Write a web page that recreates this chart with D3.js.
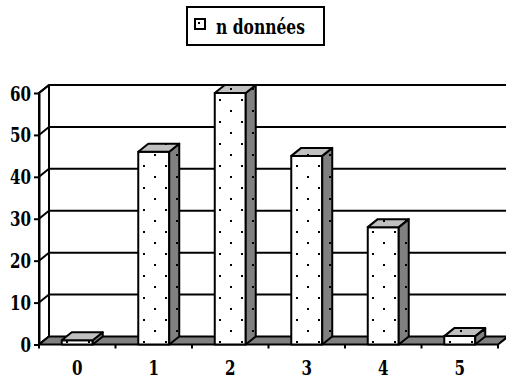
<!DOCTYPE html>
<html>
<head>
<meta charset="utf-8">
<script src="https://cdn.jsdelivr.net/npm/d3@7"></script>
<style>
  html, body { margin: 0; padding: 0; background: #fff; }
  svg { display: block; }
</style>
</head>
<body>
<svg id="chart" width="506" height="380"></svg>
<script>
// Number of observations per value
const categories = ["0", "1", "2", "3", "4", "5"];
const counts = [1, 46, 60, 45, 28, 2];
const yTicks = [0, 10, 20, 30, 40, 50, 60];
const seriesName = "n données";

const W = 506, H = 380;
const DX = 10, DY = -8;          // depth offset of the 3D box
const sideFill = "#808080", topFill = "#c0c0c0", floorFill = "#808080";
const labelFont = "'DejaVu Serif', serif";
const digitW = 10.5;             // narrow bold serif digit advance

const svg = d3.select("#chart");
const defs = svg.append("defs");

const styleLabel = sel => sel
  .style("font-family", labelFont)
  .style("font-weight", "bold")
  .style("font-size", "19.5px")
  .style("fill", "#000");

const x = d3.scaleBand().domain(categories).range([39, 498]);
const y = d3.scaleLinear().domain([0, 60]).range([344.5, 93]);
const barW = x.bandwidth() * 0.405;

const line = (pts) => "M" + pts.map(p => p.join(",")).join("L") + "Z";

// back wall
const yTop = y(60) + DY, yBase = y(0);
svg.append("path")
  .attr("d", line([[x.range()[0] + DX, yTop], [W + 4, yTop], [W + 4, yBase + DY], [x.range()[0] + DX, yBase + DY]]))
  .attr("fill", "#fff");

// gridlines on back wall
svg.append("g").selectAll("line").data(yTicks.filter(t => t > 0)).join("line")
  .attr("x1", x.range()[0] + DX).attr("x2", W + 4)
  .attr("y1", d => y(d) + DY).attr("y2", d => y(d) + DY)
  .attr("stroke", "#000").attr("stroke-width", 2);

// left wall
const x0 = x.range()[0];
svg.append("path")
  .attr("d", line([[x0, y(0)], [x0, y(60)], [x0 + DX, y(60) + DY], [x0 + DX, y(0) + DY]]))
  .attr("fill", "#fff").attr("stroke", "#000").attr("stroke-width", 2).attr("stroke-linejoin", "round");
svg.append("g").selectAll("line").data(yTicks).join("line")
  .attr("x1", x0).attr("x2", x0 + DX)
  .attr("y1", d => y(d)).attr("y2", d => y(d) + DY)
  .attr("stroke", "#000").attr("stroke-width", 2);

// floor
const x1 = x.range()[1];
svg.append("path")
  .attr("d", line([[x0, y(0)], [x1, y(0)], [x1 + DX, y(0) + DY], [x0 + DX, y(0) + DY]]))
  .attr("fill", floorFill).attr("stroke", "#000").attr("stroke-width", 2).attr("stroke-linejoin", "round");

// y axis
const yAxis = svg.append("g")
  .attr("transform", `translate(${x0},0)`)
  .call(d3.axisLeft(y).tickValues(yTicks).tickSize(5).tickSizeOuter(0).tickPadding(3));
yAxis.attr("font-family", null).attr("font-size", null);
yAxis.select(".domain").attr("stroke", "#000").attr("stroke-width", 2);
yAxis.selectAll(".tick line").attr("stroke", "#000").attr("stroke-width", 2);
yAxis.selectAll(".tick text").call(styleLabel).attr("dy", "0.36em")
  .attr("textLength", d => String(d).length * digitW).attr("lengthAdjust", "spacingAndGlyphs");

// x axis: labels at category centres, ticks at category boundaries
const xAxis = svg.append("g")
  .attr("transform", `translate(0,${y(0)})`)
  .call(d3.axisBottom(x).tickSize(0));
xAxis.attr("font-family", null).attr("font-size", null);
xAxis.select(".domain").remove();
xAxis.selectAll(".tick text").call(styleLabel).attr("y", 17).attr("dy", "0.71em")
  .attr("textLength", d => String(d).length * digitW).attr("lengthAdjust", "spacingAndGlyphs");
const bounds = categories.map(c => x(c)).concat([x1]);
svg.append("g").selectAll("line").data(bounds).join("line")
  .attr("x1", d => d).attr("x2", d => d)
  .attr("y1", y(0)).attr("y2", y(0) + 4)
  .attr("stroke", "#000").attr("stroke-width", 2);

// dot patterns, one per bar so each starts at its bar's edge
const data = categories.map((c, i) => ({ c, v: counts[i], i }));
data.forEach(d => {
  const left = x(d.c) + (x.bandwidth() - barW) / 2;
  const p = defs.append("pattern")
    .attr("id", "dots" + d.i)
    .attr("patternUnits", "userSpaceOnUse")
    .attr("x", Math.round(left + 4.7)).attr("y", 99)
    .attr("width", 22).attr("height", 22);
  p.append("rect").attr("x", 0).attr("y", 0).attr("width", 2).attr("height", 2).attr("fill", "#000");
  p.append("rect").attr("x", 11).attr("y", 11).attr("width", 2).attr("height", 2).attr("fill", "#000");
});

// bars
const bars = svg.append("g").selectAll("g").data(data).join("g");
bars.each(function (d) {
  const g = d3.select(this);
  const l = x(d.c) + (x.bandwidth() - barW) / 2, r = l + barW;
  const t = y(d.v), b = y(0);
  const faces = [
    { pts: [[l, t], [r, t], [r, b], [l, b]], fill: "#fff" },
    { pts: [[r, t], [r + DX, t + DY], [r + DX, b + DY], [r, b]], fill: sideFill },
    { pts: [[l, t], [l + DX, t + DY], [r + DX, t + DY], [r, t]], fill: topFill }
  ];
  faces.forEach(f => {
    g.append("path").attr("d", line(f.pts)).attr("fill", f.fill);
    g.append("path").attr("d", line(f.pts)).attr("fill", `url(#dots${d.i})`)
      .attr("stroke", "#000").attr("stroke-width", 2).attr("stroke-linejoin", "round");
  });
});

// legend
const lg = svg.append("g");
lg.append("rect").attr("x", 187).attr("y", 7).attr("width", 137).attr("height", 38)
  .attr("fill", "#fff").attr("stroke", "#000").attr("stroke-width", 2);
lg.append("rect").attr("x", 195).attr("y", 19).attr("width", 10).attr("height", 10)
  .attr("fill", "#fff").attr("stroke", "#000").attr("stroke-width", 2);
lg.append("rect").attr("x", 198).attr("y", 22).attr("width", 2).attr("height", 2).attr("fill", "#000");
lg.append("text").attr("x", 216).attr("y", 34).text(seriesName)
  .call(styleLabel)
  .attr("textLength", 89).attr("lengthAdjust", "spacingAndGlyphs");
</script>
</body>
</html>
